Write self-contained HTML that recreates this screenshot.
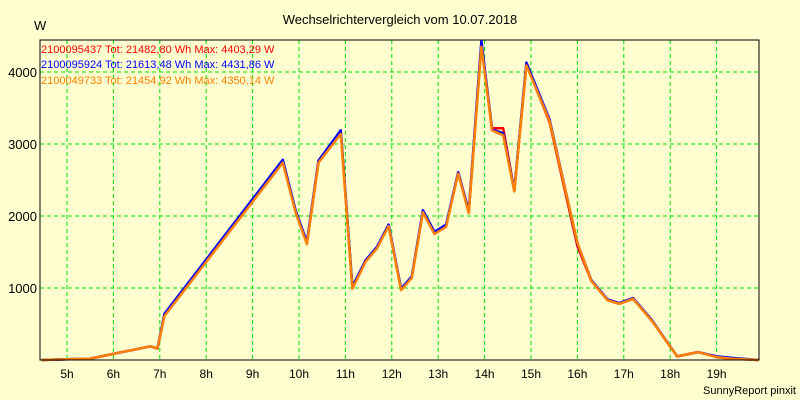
<!DOCTYPE html>
<html><head><meta charset="utf-8"><style>
body{margin:0;background:#ffffd0;}
svg{display:block;font-family:"Liberation Sans",sans-serif;}
</style></head><body>
<svg id="chart" width="800" height="400">
<rect x="0" y="0" width="800" height="400" fill="#ffffd0"/>
<text x="400" y="24" text-anchor="middle" font-size="13">Wechselrichtervergleich vom 10.07.2018</text>
<text x="34" y="30" font-size="13">W</text>
<g id="grid"></g>
<g id="series"></g>
<rect x="40" y="40" width="719" height="320" fill="none" stroke="#000" stroke-width="1"/>
<g id="labels"></g>
<text x="41" y="53" font-size="11" fill="#ff0000">2100095437 Tot: 21482,80 Wh Max: 4403,29 W</text>
<text x="41" y="68" font-size="11" fill="#0000ff">2100095924 Tot: 21613,48 Wh Max: 4431,86 W</text>
<text x="41" y="84" font-size="11" fill="#ff8000">2100049733 Tot: 21454,92 Wh Max: 4350,14 W</text>
<text x="796" y="394" text-anchor="end" font-size="11">SunnyReport pinxit</text>
</svg>
<script>
const hours=[4.45,5.0,5.5,6.8,6.95,7.1,9.65,9.93,10.17,10.42,10.9,11.15,11.44,11.68,11.93,12.2,12.43,12.67,12.92,13.17,13.43,13.66,13.93,14.16,14.4,14.64,14.9,15.4,16.0,16.3,16.65,16.9,17.2,17.6,18.15,18.6,19.0,19.3,19.9];
const redVals=[0,10,20,190,160,620,2760,2050,1620,2750,3170,1000,1380,1560,1870,980,1150,2060,1760,1860,2600,2050,4403,3220,3220,2350,4110,3300,1580,1100,830,780,850,550,50,110,40,20,0];
const blueVals=[0,10,20,190,160,640,2780,2070,1640,2770,3190,1020,1390,1570,1880,990,1160,2080,1780,1880,2610,2070,4431,3200,3150,2360,4130,3340,1620,1110,840,790,860,560,50,110,50,30,0];
const orangeVals=[0,10,20,190,160,610,2740,2040,1610,2740,3140,990,1370,1550,1860,970,1140,2050,1750,1850,2590,2040,4350,3190,3120,2340,4090,3320,1630,1100,830,780,850,550,50,110,40,20,0];
const yTicks=[1000,2000,3000,4000];
const xTicks=[5,6,7,8,9,10,11,12,13,14,15,16,17,18,19];
const NS="http://www.w3.org/2000/svg";
function xs(h){return 67+(h-5)*46.4;}
function ys(v){return 360-v*0.072;}
const grid=document.getElementById('grid'),labels=document.getElementById('labels'),ser=document.getElementById('series');
yTicks.forEach(v=>{
 const l=document.createElementNS(NS,'line');
 l.setAttribute('x1',40);l.setAttribute('x2',759);l.setAttribute('y1',ys(v));l.setAttribute('y2',ys(v));
 l.setAttribute('stroke','#00e000');l.setAttribute('stroke-dasharray','4,3');
 
 
 grid.appendChild(l);
 const t=document.createElementNS(NS,'text');
 t.setAttribute('x',37);t.setAttribute('y',ys(v)+5);t.setAttribute('text-anchor','end');t.setAttribute('font-size','13');
 t.textContent=v;
 
 
 labels.appendChild(t);
});
xTicks.forEach(h=>{
 const l=document.createElementNS(NS,'line');
 l.setAttribute('x1',xs(h));l.setAttribute('x2',xs(h));l.setAttribute('y1',40);l.setAttribute('y2',360);
 l.setAttribute('stroke','#00e000');l.setAttribute('stroke-dasharray','4,3');
 
 
 grid.appendChild(l);
 const t=document.createElementNS(NS,'text');
 t.setAttribute('x',xs(h));t.setAttribute('y',378);t.setAttribute('text-anchor','middle');t.setAttribute('font-size','12');
 t.textContent=h+'h';
 
 
 labels.appendChild(t);
});
[[redVals,'#ff0000','series-red'],[blueVals,'#0000ff','series-blue'],[orangeVals,'#ff8000','series-orange']].forEach(s=>{
 const p=document.createElementNS(NS,'polyline');
 p.setAttribute('points',hours.map((h,i)=>xs(h).toFixed(1)+','+Math.max(40,ys(s[0][i])).toFixed(1)).join(' '));
 p.setAttribute('fill','none');p.setAttribute('stroke',s[1]);p.setAttribute('stroke-width','2.5');p.setAttribute('stroke-linejoin','round');
 
 
 ser.appendChild(p);
});
</script>
</body></html>
